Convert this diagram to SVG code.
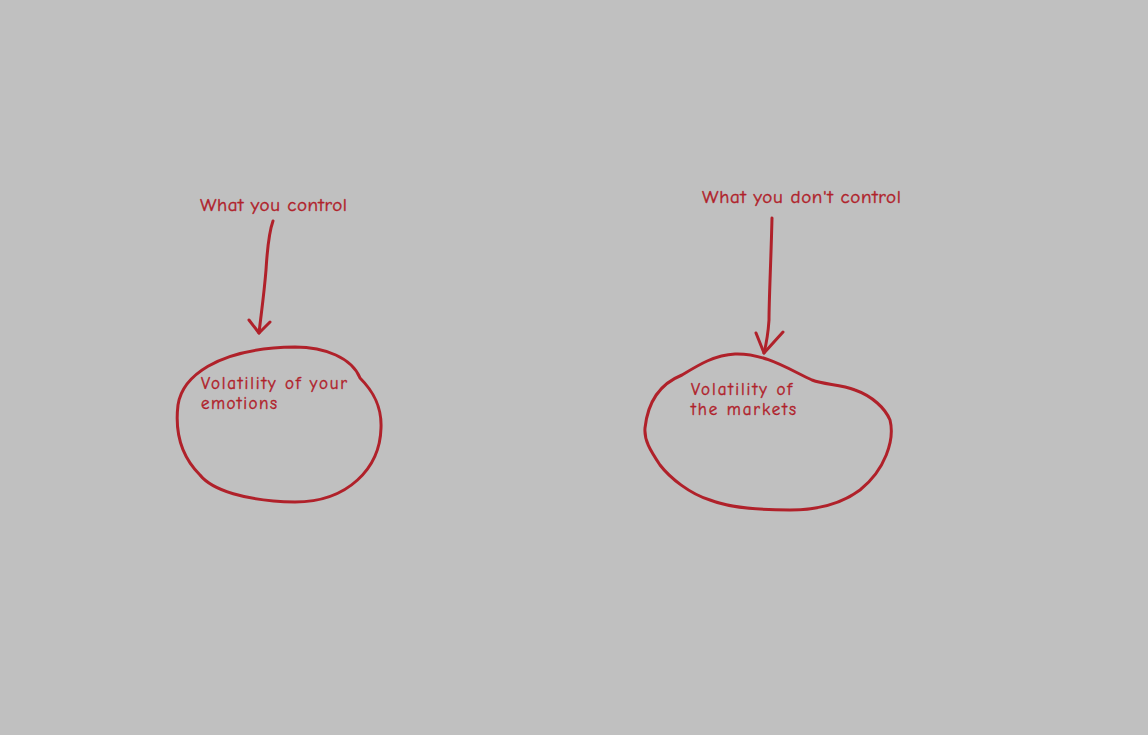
<svg xmlns="http://www.w3.org/2000/svg" width="1148" height="735" viewBox="0 0 1148 735">
<style>
.ink{fill:none;stroke:#b0212a;stroke-width:3;stroke-linecap:round;stroke-linejoin:round}
.t{fill:#b0212a;stroke:#b0212a;stroke-width:0.4;font-family:"Comic Neue","Liberation Sans","DejaVu Sans",sans-serif;font-size:17px}
.h{font-size:19px}
</style>
<rect width="1148" height="735" fill="#c0c0c0"/>
<g id="label-control">
<text class="t h" x="200" y="211" textLength="147" lengthAdjust="spacing">What you control</text>
</g>
<g id="label-dont-control">
<text class="t h" x="702" y="203" textLength="199" lengthAdjust="spacing">What you don't control</text>
</g>
<g id="node-emotions">
<path class="ink" d="M295,347 C325,347 352,358 360,378 C372,390 382,405 381,428 C380,468 348,502 295,502 C245,501 212,490 200,475 C180,455 175,430 178,405 C182,378 215,348 295,347 Z"/>
<text class="t" x="201" y="389" textLength="146" lengthAdjust="spacing">Volatility of your</text>
<text class="t" x="201" y="409" textLength="76" lengthAdjust="spacing">emotions</text>
</g>
<g id="node-markets">
<path class="ink" d="M645,428 C648,400 662,383 682,375 C700,364 715,355 735,354 C765,353 790,370 812,380 C825,385 840,384 855,390 C872,396 885,408 890,420 C895,440 885,470 860,490 C840,505 815,510 790,510 C760,510 730,508 710,500 C690,494 670,478 660,465 C650,450 644,440 645,428 Z"/>
<text class="t" x="691" y="395" textLength="101" lengthAdjust="spacing">Volatility of</text>
<text class="t" x="691" y="415" textLength="105" lengthAdjust="spacing">the markets</text>
</g>
<g id="connectors">
<path class="ink" d="M273,221 C268,235 267,255 266,270 C264,295 261,315 259,333"/>
<path class="ink" d="M249,320 L259,333 L270,322"/>
<path class="ink" d="M772,218 C771,260 769,300 769,320 C768,335 766,345 764,353"/>
<path class="ink" d="M756,333 L764,353 L783,332"/>
</g>
</svg>
